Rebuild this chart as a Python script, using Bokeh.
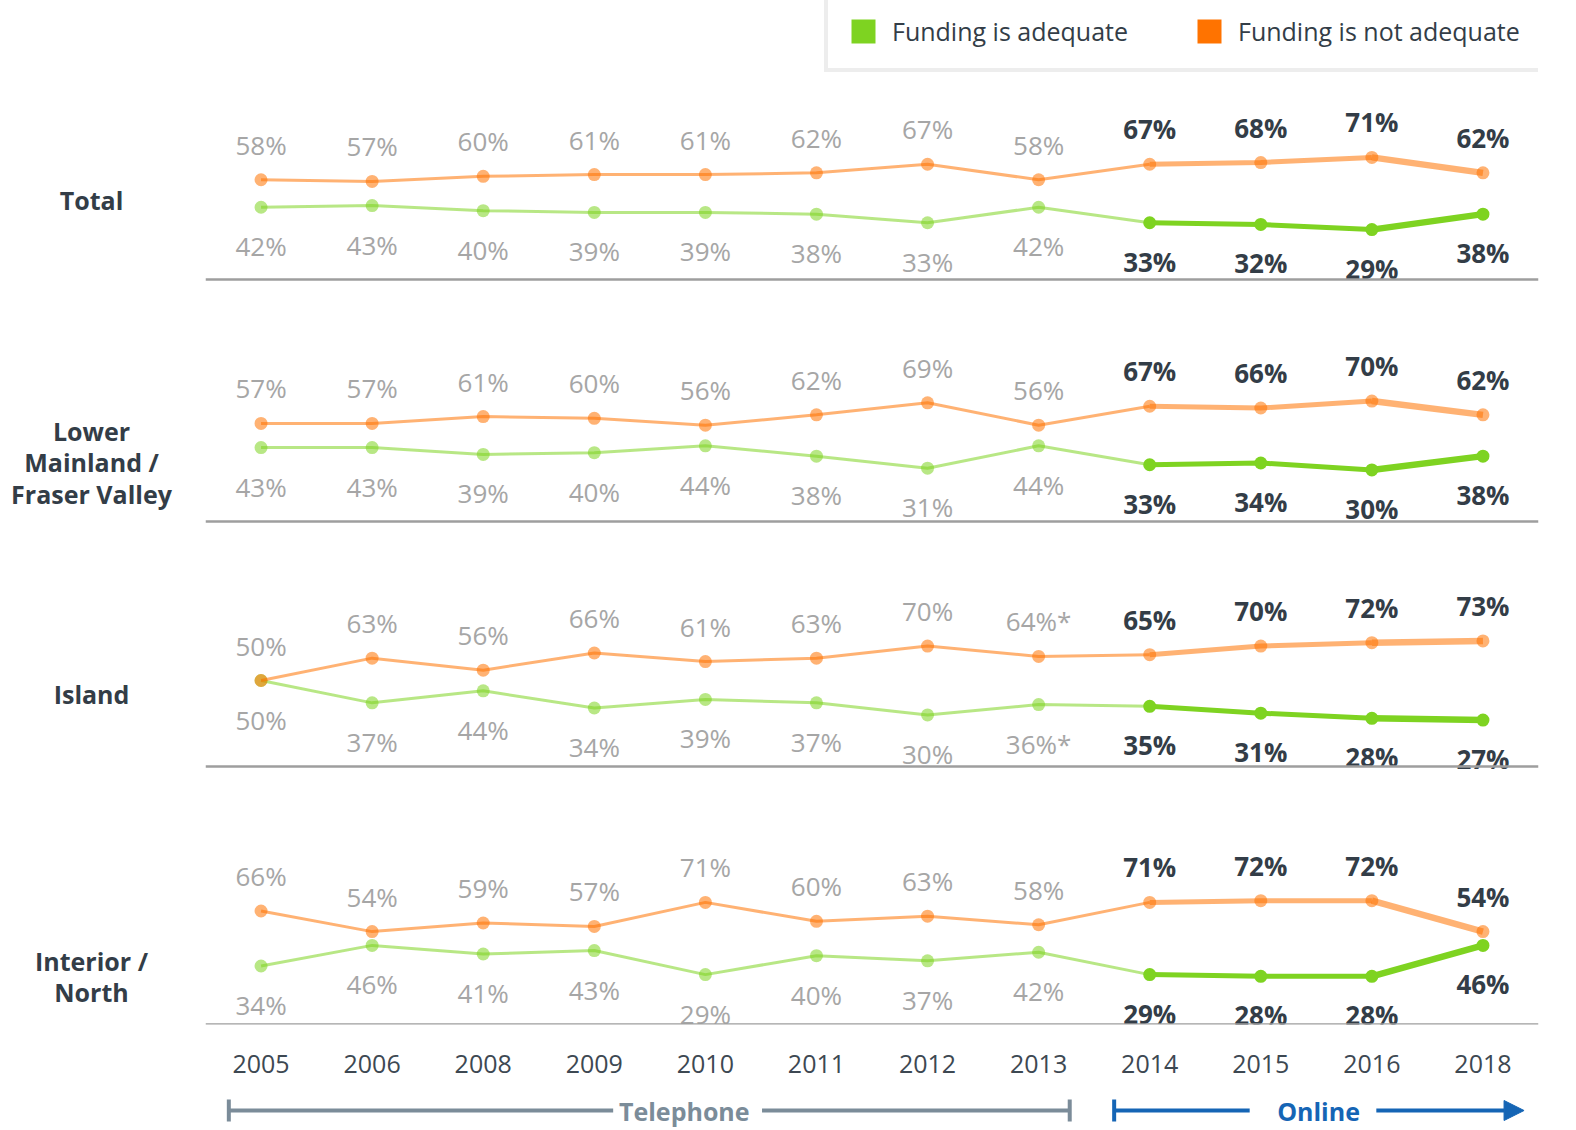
from bokeh.plotting import figure
from bokeh.models import (FactorRange, Range1d, Span, Legend, LegendItem,
                          ColumnDataSource, Arrow, TeeHead, NormalHead)
from bokeh.transform import dodge
from bokeh.layouts import column, row
from bokeh.embed import file_html
from bokeh.resources import INLINE
from bokeh.core.properties import value

# ---------------- data ----------------
years = ["2005", "2006", "2008", "2009", "2010", "2011", "2012", "2013",
         "2014", "2015", "2016", "2018"]
online_from = "2014"

region_names = ["Total", "Lower\nMainland /\nFraser Valley", "Island", "Interior /\nNorth"]

total_not = [58, 57, 60, 61, 61, 62, 67, 58, 67, 68, 71, 62]
total_adequate = [42, 43, 40, 39, 39, 38, 33, 42, 33, 32, 29, 38]

lmfv_not = [57, 57, 61, 60, 56, 62, 69, 56, 67, 66, 70, 62]
lmfv_adequate = [43, 43, 39, 40, 44, 38, 31, 44, 33, 34, 30, 38]

island_not = [50, 63, 56, 66, 61, 63, 70, 64, 65, 70, 72, 73]
island_adequate = [50, 37, 44, 34, 39, 37, 30, 36, 35, 31, 28, 27]
island_note = ["", "", "", "", "", "", "", "*", "", "", "", ""]

interior_not = [66, 54, 59, 57, 71, 60, 63, 58, 71, 72, 72, 54]
interior_adequate = [34, 46, 41, 43, 29, 40, 37, 42, 29, 28, 28, 46]

no_note = [""] * len(years)

series_names = ["Funding is adequate", "Funding is not adequate"]
phase_names = ["Telephone", "Online"]

panels = [
    (region_names[0], total_not, total_adequate, no_note),
    (region_names[1], lmfv_not, lmfv_adequate, no_note),
    (region_names[2], island_not, island_adequate, island_note),
    (region_names[3], interior_not, interior_adequate, no_note),
]

# ---------------- style / layout ----------------
FONT = "Open Sans"
GREEN = "#7ed321"
ORANGE = "#ff7300"
LIGHT_ALPHA = 0.55
GRAY_TXT = "#a6a6a6"
DARK = "#333d47"
AXIS_TXT = "#3d4852"
BASE_GRAY = "#9e9e9e"
TEL_COLOR = "#7b8c99"
ONLINE_COLOR = "#1565b5"
LBL_SIZE = "26px"

TOTAL_W = 1576
LEFT, RIGHT = 205, 38
FRAME_H = 1024
AXIS_H = 70
BRACKET_H = 34
PX_PER_PCT = 1.72
baselines_px = [279, 521, 766, 1024]     # zero line of each panel, px from top
name_y = [46.5, 34.3, 41.9, 27.9]        # vertical centre of panel names, panel units
NAME_X = 0.444                           # horizontal centre of names in the name column
UP_OFF, DOWN_OFF = -35, 39

k = years.index(online_from)

ranges = {}
for i, b in enumerate(baselines_px):
    end = b / PX_PER_PCT
    ranges[f"panel{i}"] = Range1d(end - FRAME_H / PX_PER_PCT, end)

p = figure(width=TOTAL_W - LEFT, height=FRAME_H + AXIS_H, x_range=FactorRange(*years),
           y_range=Range1d(0, 1), output_backend="svg", toolbar_location=None,
           min_border_left=0, min_border_right=RIGHT, min_border_top=0,
           min_border_bottom=AXIS_H, y_axis_location=None, outline_line_color=None)
p.extra_y_ranges = ranges
p.grid.visible = False
p.xaxis.axis_line_color = None
p.xaxis.major_tick_line_color = None
p.xaxis.minor_tick_line_color = None
p.xaxis.major_label_text_font = FONT
p.xaxis.major_label_text_font_size = "25px"
p.xaxis.major_label_text_color = AXIS_TXT
p.xaxis.major_label_standoff = 24

# name column on the left, sharing the panel ranges
pl = figure(width=LEFT, height=FRAME_H + AXIS_H, x_range=Range1d(0, 1), y_range=Range1d(0, 1),
            output_backend="svg", toolbar_location=None, min_border_left=0,
            min_border_right=0, min_border_top=0, min_border_bottom=AXIS_H,
            x_axis_location=None, y_axis_location=None, outline_line_color=None)
pl.extra_y_ranges = ranges
pl.grid.visible = False


def labels_for(vals, notes):
    return [f"{v}%{n}" for v, n in zip(vals, notes)]


for i, (name, nv, av, note) in enumerate(panels):
    rn = f"panel{i}"
    p.add_layout(Span(location=0, dimension="width", y_range_name=rn,
                      line_color=BASE_GRAY, line_width=2.5))

    # green (adequate) first, orange drawn on top
    for vals, color, alpha_on in ((av, GREEN, 1.0), (nv, ORANGE, LIGHT_ALPHA)):
        p.line(years[:k + 1], vals[:k + 1], y_range_name=rn, line_color=color,
               line_alpha=LIGHT_ALPHA, line_width=3)
        p.scatter(years[:k], vals[:k], y_range_name=rn, size=13, fill_color=color,
                  line_color=None, fill_alpha=LIGHT_ALPHA)
        p.line(years[k:k + 3], vals[k:k + 3], y_range_name=rn, line_color=color,
               line_alpha=alpha_on, line_width=5)
        p.line(years[k + 2:], vals[k + 2:], y_range_name=rn, line_color=color,
               line_alpha=alpha_on, line_width=6.5)
        p.scatter(years[k:], vals[k:], y_range_name=rn, size=13, fill_color=color,
                  line_color=None, fill_alpha=alpha_on)

    for vals, off in ((nv, UP_OFF), (av, DOWN_OFF)):
        txt = labels_for(vals, note)
        p.text(x=years[:k], y=vals[:k], text=txt[:k], y_range_name=rn,
               y_offset=off, text_align="center", text_baseline="middle",
               text_font=value(FONT), text_font_size=LBL_SIZE, text_color=GRAY_TXT)
        p.text(x=years[k:], y=vals[k:], text=txt[k:], y_range_name=rn,
               y_offset=off, text_align="center", text_baseline="middle",
               text_font=value(FONT), text_font_size=LBL_SIZE, text_font_style="bold",
               text_color=DARK)

    pl.text(x=[NAME_X], y=[name_y[i]], text=[name], y_range_name=rn,
            text_align="center", text_baseline="middle", text_font=value(FONT),
            text_font_size="25px", text_font_style="bold", text_color=DARK,
            text_line_height=0.94)

# legend (proxy renderers with no visible geometry)
nan = float("nan")
r_g = p.quad(left=[nan], right=[nan], top=[nan], bottom=[nan], fill_color=GREEN, line_color=None)
r_o = p.quad(left=[nan], right=[nan], top=[nan], bottom=[nan], fill_color=ORANGE, line_color=None)
legend = Legend(items=[LegendItem(label=series_names[0], renderers=[r_g]),
                       LegendItem(label=series_names[1], renderers=[r_o])],
                location=(824 - LEFT, 952), orientation="horizontal",
                glyph_width=30, glyph_height=30, label_text_font=FONT,
                label_text_font_size="25px", label_text_color=DARK,
                label_standoff=14, spacing=66, padding=20, margin=0,
                border_line_color="#dcdcdc", border_line_width=4,
                background_fill_color="white", background_fill_alpha=1.0)
p.add_layout(legend)

# ---------------- bottom phase bracket ----------------
p2 = figure(width=TOTAL_W, height=BRACKET_H, x_range=p.x_range, y_range=Range1d(0, BRACKET_H),
            output_backend="svg", toolbar_location=None,
            min_border_left=LEFT, min_border_right=RIGHT, min_border_top=0,
            min_border_bottom=0, x_axis_location=None, y_axis_location=None,
            outline_line_color=None)
p2.grid.visible = False
YB = 18


def arrow(a, oa, b, ob, color, start=None, end=None):
    src = ColumnDataSource(dict(a=[a], b=[b]))
    p2.add_layout(Arrow(x_start=dodge("a", oa, range=p.x_range), y_start=YB,
                        x_end=dodge("b", ob, range=p.x_range), y_end=YB,
                        source=src, line_color=color, line_width=4,
                        start=start, end=end))


arrow("2005", -0.29, "2009", 0.17, TEL_COLOR,
      start=TeeHead(size=22, line_color=TEL_COLOR, line_width=4))
arrow("2010", 0.51, "2013", 0.28, TEL_COLOR,
      end=TeeHead(size=22, line_color=TEL_COLOR, line_width=4))
arrow("2014", -0.32, "2015", -0.10, ONLINE_COLOR,
      start=TeeHead(size=22, line_color=ONLINE_COLOR, line_width=4))
arrow("2016", 0.04, "2018", 0.37, ONLINE_COLOR,
      end=NormalHead(size=20, fill_color=ONLINE_COLOR, line_color=ONLINE_COLOR))

for nm, yr, off, col in ((phase_names[0], "2010", -0.19, TEL_COLOR),
                         (phase_names[1], "2015", 0.52, ONLINE_COLOR)):
    s = ColumnDataSource(dict(x=[yr], t=[nm]))
    p2.text(x=dodge("x", off, range=p.x_range), y=YB, text="t", source=s,
            text_align="center", text_baseline="middle", text_font=value(FONT),
            text_font_size="25px", text_font_style="bold", text_color=col)

layout = column(row(pl, p), p2)
open("out.html", "w").write(file_html(layout, INLINE))
